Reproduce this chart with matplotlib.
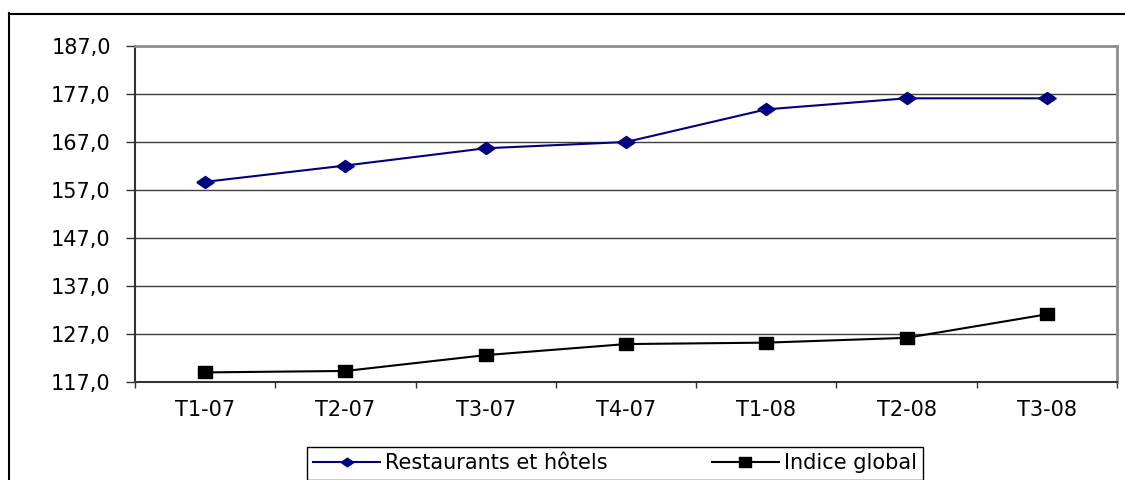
import numpy as np
import matplotlib
matplotlib.use("Agg")
import matplotlib.pyplot as plt
from matplotlib.lines import Line2D

plt.rcParams['font.family'] = ['DejaVu Sans']

# ======== DONNEES ========
trimestres = ["T1-07", "T2-07", "T3-07", "T4-07", "T1-08", "T2-08", "T3-08"]
restaurants = [158.7, 162.1, 165.7, 167.0, 173.8, 176.1, 176.1]
indice_global = [119.0, 119.3, 122.6, 124.9, 125.2, 126.2, 131.1]
yticks = [117, 127, 137, 147, 157, 167, 177, 187]

W, H = 1125, 480
FS = 15
fig = plt.figure(figsize=(W / 100, H / 100), dpi=100)

# cadre exterieur (coupe a droite et en bas)
fig.add_artist(Line2D([8.5 / W, 8.5 / W], [0, 1 - 13 / H], color="black", lw=1.5))
fig.add_artist(Line2D([8.5 / W, 1], [1 - 13.5 / H, 1 - 13.5 / H], color="black", lw=1.5))

ax = fig.add_axes([135 / W, (H - 382) / H, (1117 - 135) / W, (382 - 46) / H])

# marqueurs un peu aplatis comme dans Excel
losange = [(-1, 0), (0, 0.7), (1, 0), (0, -0.7), (-1, 0)]
carre = [(-1, -0.8), (1, -0.8), (1, 0.8), (-1, 0.8), (-1, -0.8)]

x = np.arange(len(trimestres))
ax.plot(x, restaurants, color="#000080", lw=1.5, marker=losange, markersize=12.5,
        markerfacecolor="#000080", markeredgecolor="#000080", label="Restaurants et hôtels", zorder=3)
ax.plot(x, indice_global, color="black", lw=1.5, marker=carre, markersize=10,
        markerfacecolor="black", label="Indice global", zorder=3)

ax.set_xlim(-0.5, len(trimestres) - 0.5)
ax.set_ylim(117, 187)
ax.set_yticks(yticks)
ax.set_yticklabels([f"{v:.1f}".replace(".", ",") for v in yticks], fontsize=FS)
ax.set_xticks(x)
ax.set_xticklabels(trimestres, fontsize=FS)
ax.tick_params(axis="x", which="major", length=0, pad=13)
ax.set_xticks(np.arange(-0.5, len(trimestres)), minor=True)
ax.tick_params(axis="x", which="minor", length=4.5, width=1, color="#333333", direction="out")
ax.tick_params(axis="y", length=6.5, width=1, color="#333333", pad=11)

for v in yticks[1:-1]:
    ax.axhline(v, color="#404040", lw=1, zorder=1)

ax.spines["left"].set_color("#333333")
ax.spines["left"].set_linewidth(1.5)
ax.spines["bottom"].set_color("#333333")
ax.spines["bottom"].set_linewidth(1.5)
ax.spines["top"].set_color("#8c8c8c")
ax.spines["top"].set_linewidth(2)
ax.spines["right"].set_color("#8c8c8c")
ax.spines["right"].set_linewidth(2)

leg = fig.legend(loc="upper left", bbox_to_anchor=(307 / W, 1 - 447 / H), ncol=2,
                 fontsize=FS, frameon=True, fancybox=False, framealpha=1,
                 edgecolor="black", handlelength=3.2, handletextpad=0.25,
                 columnspacing=5.0, borderpad=0.3, borderaxespad=0)
leg.get_frame().set_linewidth(1)
for h in leg.legend_handles:
    h.set_markersize(9)

fig.savefig("out.png", dpi=100)
